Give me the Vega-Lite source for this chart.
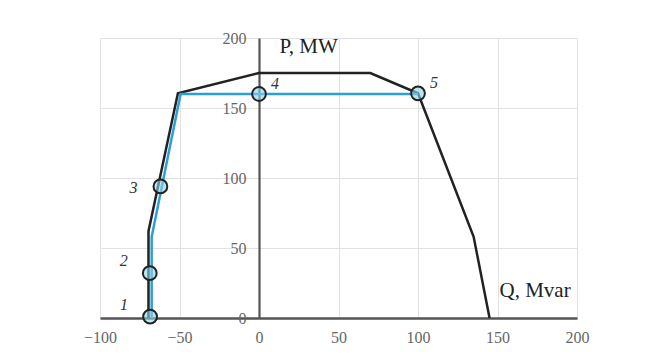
{
  "$schema": "https://vega.github.io/schema/vega-lite/v6.json",
  "width": 477,
  "height": 280,
  "autosize": {"type": "none"},
  "padding": {"left": 100, "top": 38, "right": 83, "bottom": 37},
  "background": "#ffffff",
  "config": {"view": {"stroke": null}, "font": "Liberation Serif"},
  "datasets": {
    "limit": [
      {"seq": 1, "Q": -69.5, "P": 0},
      {"seq": 2, "Q": -69.5, "P": 62},
      {"seq": 3, "Q": -51, "P": 160.5},
      {"seq": 4, "Q": 0, "P": 175},
      {"seq": 5, "Q": 70, "P": 175},
      {"seq": 6, "Q": 100, "P": 160.5},
      {"seq": 7, "Q": 135, "P": 58},
      {"seq": 8, "Q": 145, "P": 0}
    ],
    "path": [
      {"seq": 1, "Q": -67.5, "P": 0},
      {"seq": 2, "Q": -67.5, "P": 58},
      {"seq": 3, "Q": -49.3, "P": 160},
      {"seq": 4, "Q": 0, "P": 160},
      {"seq": 5, "Q": 100, "P": 160}
    ],
    "pts": [
      {"label": "1", "Q": -68.5, "P": 1},
      {"label": "2", "Q": -68.7, "P": 32},
      {"label": "3", "Q": -62, "P": 94},
      {"label": "4", "Q": 0, "P": 160},
      {"label": "5", "Q": 100, "P": 160.5}
    ]
  },
  "layer": [
    {
      "data": {"name": "limit"},
      "mark": {"type": "line", "color": "#222222", "strokeWidth": 2.5},
      "encoding": {
        "x": {
          "field": "Q", "type": "quantitative",
          "scale": {"domain": [-100, 200], "nice": false, "zero": false},
          "axis": {
            "orient": "bottom",
            "values": [-100, -50, 0, 50, 100, 150, 200],
            "grid": true, "gridColor": "#e2e2e2", "gridWidth": 1,
            "domain": true, "domainColor": "#555555", "domainWidth": 2.5,
            "ticks": false,
            "labelPadding": 11, "labelFlush": false, "labelOverlap": false,
            "labelFont": "Liberation Serif", "labelFontSize": 16, "labelColor": "#666666",
            "title": "Q, Mvar", "titleX": 399, "titleY": -28,
            "titleAlign": "left", "titleBaseline": "middle", "titleAngle": 0,
            "titleFont": "Liberation Serif", "titleFontSize": 21, "titleFontWeight": "normal", "titleColor": "#222222"
          }
        },
        "y": {
          "field": "P", "type": "quantitative",
          "scale": {"domain": [0, 200], "nice": false, "zero": false},
          "axis": {
            "orient": "left", "offset": -159,
            "values": [0, 50, 100, 150, 200],
            "grid": true, "gridColor": "#e2e2e2", "gridWidth": 1,
            "domain": true, "domainColor": "#555555", "domainWidth": 2.2,
            "ticks": false,
            "labelPadding": 13, "labelOverlap": false,
            "labelFont": "Liberation Serif", "labelFontSize": 16, "labelColor": "#666666",
            "title": "P, MW", "titleX": 20, "titleY": 8,
            "titleAlign": "left", "titleBaseline": "middle", "titleAngle": 0,
            "titleFont": "Liberation Serif", "titleFontSize": 21, "titleFontWeight": "normal", "titleColor": "#222222"
          }
        },
        "order": {"field": "seq", "type": "quantitative"}
      }
    },
    {
      "data": {"name": "path"},
      "mark": {"type": "line", "color": "#2b9fd6", "strokeWidth": 2.5},
      "encoding": {
        "x": {"field": "Q", "type": "quantitative"},
        "y": {"field": "P", "type": "quantitative"},
        "order": {"field": "seq", "type": "quantitative"}
      }
    },
    {
      "data": {"name": "pts"},
      "mark": {"type": "point", "shape": "circle", "size": 190, "filled": false, "fill": "#8fd3ea", "fillOpacity": 0.6, "stroke": "#222222", "strokeWidth": 2, "opacity": 1},
      "encoding": {
        "x": {"field": "Q", "type": "quantitative"},
        "y": {"field": "P", "type": "quantitative"}
      }
    },
    {
      "data": {"name": "pts"},
      "transform": [{"filter": "datum.label == '1' || datum.label == '2'"}],
      "mark": {"type": "text", "font": "Liberation Serif", "fontStyle": "italic", "fontSize": 16, "color": "#333333", "align": "center", "baseline": "middle", "dx": -26, "dy": -12},
      "encoding": {
        "x": {"field": "Q", "type": "quantitative"},
        "y": {"field": "P", "type": "quantitative"},
        "text": {"field": "label"}
      }
    },
    {
      "data": {"name": "pts"},
      "transform": [{"filter": "datum.label == '3'"}],
      "mark": {"type": "text", "font": "Liberation Serif", "fontStyle": "italic", "fontSize": 16, "color": "#333333", "align": "center", "baseline": "middle", "dx": -27, "dy": 2},
      "encoding": {
        "x": {"field": "Q", "type": "quantitative"},
        "y": {"field": "P", "type": "quantitative"},
        "text": {"field": "label"}
      }
    },
    {
      "data": {"name": "pts"},
      "transform": [{"filter": "datum.label == '4' || datum.label == '5'"}],
      "mark": {"type": "text", "font": "Liberation Serif", "fontStyle": "italic", "fontSize": 16, "color": "#333333", "align": "center", "baseline": "middle", "dx": 16, "dy": -10},
      "encoding": {
        "x": {"field": "Q", "type": "quantitative"},
        "y": {"field": "P", "type": "quantitative"},
        "text": {"field": "label"}
      }
    }
  ]
}
